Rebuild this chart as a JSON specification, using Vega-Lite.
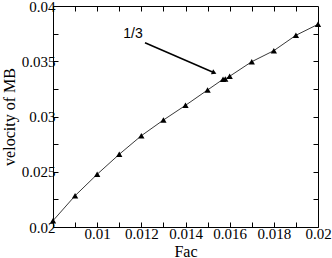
{
  "$schema": "https://vega.github.io/schema/vega-lite/v6.json",
  "width": 265,
  "height": 221,
  "autosize": {"type": "none"},
  "padding": {"left": 53, "top": 6, "right": 14, "bottom": 31},
  "background": "white",
  "config": {
    "view": {"stroke": "black", "strokeWidth": 1},
    "axis": {"grid": false, "domain": false, "tickColor": "black", "tickWidth": 1, "labelColor": "black", "titleColor": "black", "labelFont": "Times New Roman, Liberation Serif, serif", "titleFont": "Times New Roman, Liberation Serif, serif", "labelFontSize": 15, "titleFontSize": 16, "titleFontWeight": "normal"}
  },
  "datasets": {
    "pts": [
      {"Fac": 0.008, "v": 0.02057},
      {"Fac": 0.009, "v": 0.02283},
      {"Fac": 0.010, "v": 0.02477},
      {"Fac": 0.011, "v": 0.02658},
      {"Fac": 0.012, "v": 0.02826},
      {"Fac": 0.013, "v": 0.02968},
      {"Fac": 0.014, "v": 0.03101},
      {"Fac": 0.015, "v": 0.03240},
      {"Fac": 0.0157, "v": 0.03337},
      {"Fac": 0.0158, "v": 0.03340},
      {"Fac": 0.016, "v": 0.03364},
      {"Fac": 0.017, "v": 0.03496},
      {"Fac": 0.018, "v": 0.03596},
      {"Fac": 0.019, "v": 0.03735},
      {"Fac": 0.020, "v": 0.03834}
    ],
    "ann": [
      {"label": "1/3", "tx": 0.011623, "ty": 0.037466, "x1": 0.012166, "y1": 0.036679, "x2": 0.01530, "y2": 0.03396}
    ]
  },
  "resolve": {"axis": {"x": "independent", "y": "independent"}},
  "layer": [
    {
      "data": {"name": "pts"},
      "mark": {"type": "line", "color": "#222222", "strokeWidth": 0.9},
      "encoding": {
        "x": {"field": "Fac", "type": "quantitative", "scale": {"domain": [0.008, 0.02], "nice": false, "zero": false},
          "axis": {"orient": "bottom", "title": "Fac", "titlePadding": 2,
            "values": [0.009, 0.01, 0.011, 0.012, 0.013, 0.014, 0.015, 0.016, 0.017, 0.018, 0.019, 0.02],
            "labelExpr": "round(datum.value*1000)%2==1 ? '' : format(datum.value, '~g')",
            "tickSize": -5,
            "labelPadding": 4, "labelFlush": false, "labelOverlap": false}},
        "y": {"field": "v", "type": "quantitative", "scale": {"domain": [0.02, 0.04], "nice": false, "zero": false},
          "axis": {"orient": "left", "title": "velocity of MB", "titlePadding": 4,
            "values": [0.02, 0.0225, 0.025, 0.0275, 0.03, 0.0325, 0.035, 0.0375, 0.04],
            "labelExpr": "round(datum.value*400)%2==1 ? '' : format(datum.value, '~g')",
            "tickSize": -5,
            "labelPadding": 3, "labelFlush": false, "labelOverlap": false}}
      }
    },
    {
      "data": {"name": "pts"},
      "mark": {"type": "point", "shape": "triangle-up", "filled": true, "color": "black", "opacity": 1, "size": 40},
      "encoding": {
        "x": {"field": "Fac", "type": "quantitative",
          "axis": {"orient": "top", "title": null, "labels": false,
            "values": [0.009, 0.01, 0.011, 0.012, 0.013, 0.014, 0.015, 0.016, 0.017, 0.018, 0.019],
            "tickSize": -5}},
        "y": {"field": "v", "type": "quantitative",
          "axis": {"orient": "right", "title": null, "labels": false,
            "values": [0.0225, 0.025, 0.0275, 0.03, 0.0325, 0.035, 0.0375],
            "tickSize": -5}}
      }
    },
    {
      "data": {"name": "ann"},
      "mark": {"type": "rule", "color": "black", "strokeWidth": 1.5},
      "encoding": {
        "x": {"field": "x1", "type": "quantitative", "axis": null},
        "y": {"field": "y1", "type": "quantitative", "axis": null},
        "x2": {"field": "x2"},
        "y2": {"field": "y2"}
      }
    },
    {
      "data": {"name": "ann"},
      "mark": {"type": "point", "shape": "triangle-right", "filled": true, "color": "black", "opacity": 1, "size": 30, "angle": 23.5},
      "encoding": {
        "x": {"field": "x2", "type": "quantitative", "axis": null},
        "y": {"field": "y2", "type": "quantitative", "axis": null}
      }
    },
    {
      "data": {"name": "ann"},
      "mark": {"type": "text", "font": "Liberation Sans", "fontSize": 14, "color": "black", "align": "center", "baseline": "middle"},
      "encoding": {
        "x": {"field": "tx", "type": "quantitative", "axis": null},
        "y": {"field": "ty", "type": "quantitative", "axis": null},
        "text": {"field": "label"}
      }
    }
  ]
}
